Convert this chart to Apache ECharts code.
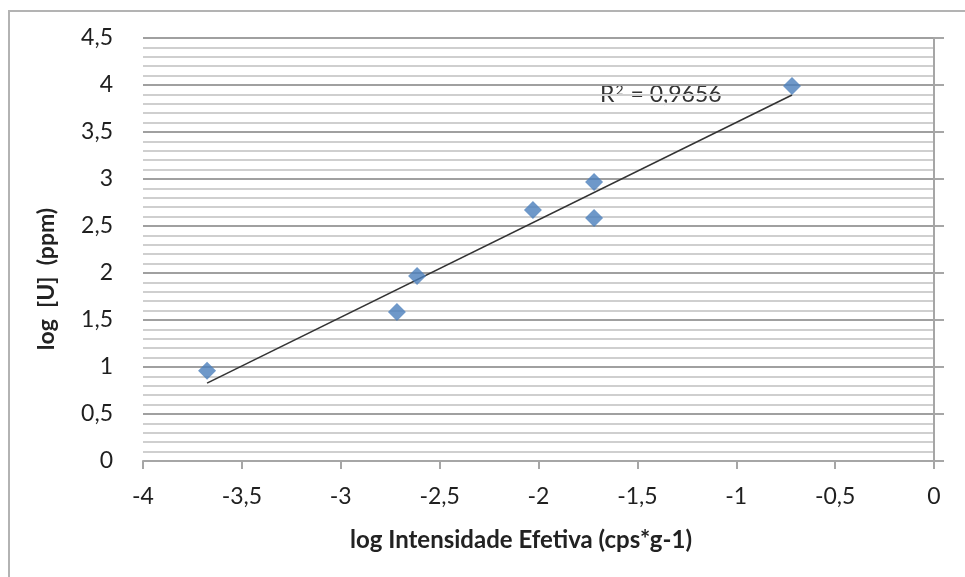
<!DOCTYPE html>
<html>
<head>
<meta charset="utf-8">
<script src="https://cdn.jsdelivr.net/npm/echarts@6/dist/echarts.min.js"></script>
<style>
html,body{margin:0;padding:0;background:#fff;}
#c{width:965px;height:577px;}
</style>
</head>
<body>
<div id="c"></div>
<script>
const xValues = [-3.676, -2.716, -2.614, -2.028, -1.719, -1.719, -0.718];
const yValues = [0.96, 1.585, 1.968, 2.670, 2.968, 2.585, 3.989];
const xTicks = [-4, -3.5, -3, -2.5, -2, -1.5, -1, -0.5, 0];
const yTicks = [0, 0.5, 1, 1.5, 2, 2.5, 3, 3.5, 4, 4.5];
const r2Value = '0,9656';
const xName = 'log Intensidade Efetiva (cps*g-1)';
const yName = 'log  [U]  (ppm)';

// linear least-squares trendline from the data
const n = xValues.length;
const mx = xValues.reduce((a,b)=>a+b,0)/n;
const my = yValues.reduce((a,b)=>a+b,0)/n;
let sxy=0,sxx=0;
for(let i=0;i<n;i++){sxy+=(xValues[i]-mx)*(yValues[i]-my);sxx+=(xValues[i]-mx)**2;}
const slope=sxy/sxx, icpt=my-slope*mx;
const xmin=Math.min(...xValues), xmax=Math.max(...xValues);
const trend=[[xmin,icpt+slope*xmin],[xmax,icpt+slope*xmax]];

const fmt = v => String(v).replace('.', ',');
const FONT = 'Lato';

const chart = echarts.init(document.getElementById('c'), null, {renderer:'canvas'});
chart.setOption({
  animation:false,
  backgroundColor:'#fff',
  grid:{left:143,right:31,top:38,bottom:116},
  xAxis:{
    type:'value', min:xTicks[0], max:xTicks[xTicks.length-1], interval:0.5,
    axisLine:{show:true,onZero:false,lineStyle:{color:'#a6a6a6',width:2}},
    axisTick:{show:true,length:8,lineStyle:{color:'#a6a6a6',width:2}},
    axisLabel:{formatter:fmt,margin:24,fontSize:23,color:'#1f1f1f',fontFamily:FONT},
    splitLine:{show:false}
  },
  yAxis:[{
    type:'value', min:yTicks[0], max:yTicks[yTicks.length-1], interval:0.5,
    axisLine:{show:false}, axisTick:{show:false},
    axisLabel:{formatter:fmt,margin:30,fontSize:23,color:'#1f1f1f',fontFamily:FONT},
    splitLine:{show:true,lineStyle:{color:'#a0a0a0',width:2}},
    minorTick:{show:false,splitNumber:5},
    minorSplitLine:{show:true,lineStyle:{color:'#cfcfcf',width:2}}
  },{
    type:'value', position:'right', min:yTicks[0], max:yTicks[yTicks.length-1], interval:0.5,
    axisLine:{show:true,lineStyle:{color:'#a6a6a6',width:2}},
    axisTick:{show:true,length:10,lineStyle:{color:'#a6a6a6',width:2}},
    axisLabel:{show:false}, splitLine:{show:false}
  }],
  series:[{
    type:'line', data:trend, showSymbol:false, symbol:'none',
    lineStyle:{color:'#333',width:1.6}, z:2
  },{
    type:'scatter', data:xValues.map((x,i)=>[x,yValues[i]]),
    symbol:'diamond', symbolSize:[18,18],
    itemStyle:{color:'#4a7ebb'}, z:3
  }],
  graphic:[
    {type:'rect',shape:{x:9,y:11,width:1100,height:1100},style:{fill:null,stroke:'#b3b3b3',lineWidth:2},silent:true},
    {type:'text',x:600,y:95,style:{
      text:'{b|R}{s|2}{b| = '+r2Value+'}',
      textVerticalAlign:'middle',textAlign:'left',
      rich:{
        b:{fontFamily:FONT,fontSize:23,fill:'#333',color:'#333'},
        s:{fontFamily:FONT,fontSize:14,color:'#333',fill:'#333',verticalAlign:'top',padding:[0,1,8,1]}
      }
    }},
    {type:'text',x:521,y:540,style:{text:xName,font:'bold 24px "'+FONT+'"',fill:'#222',textAlign:'center',textVerticalAlign:'middle'}},
    {type:'text',x:47,y:279,rotation:Math.PI/2,style:{text:yName,font:'bold 23px "'+FONT+'"',fill:'#222',textAlign:'center',textVerticalAlign:'middle'}}
  ]
});
</script>
</body>
</html>
